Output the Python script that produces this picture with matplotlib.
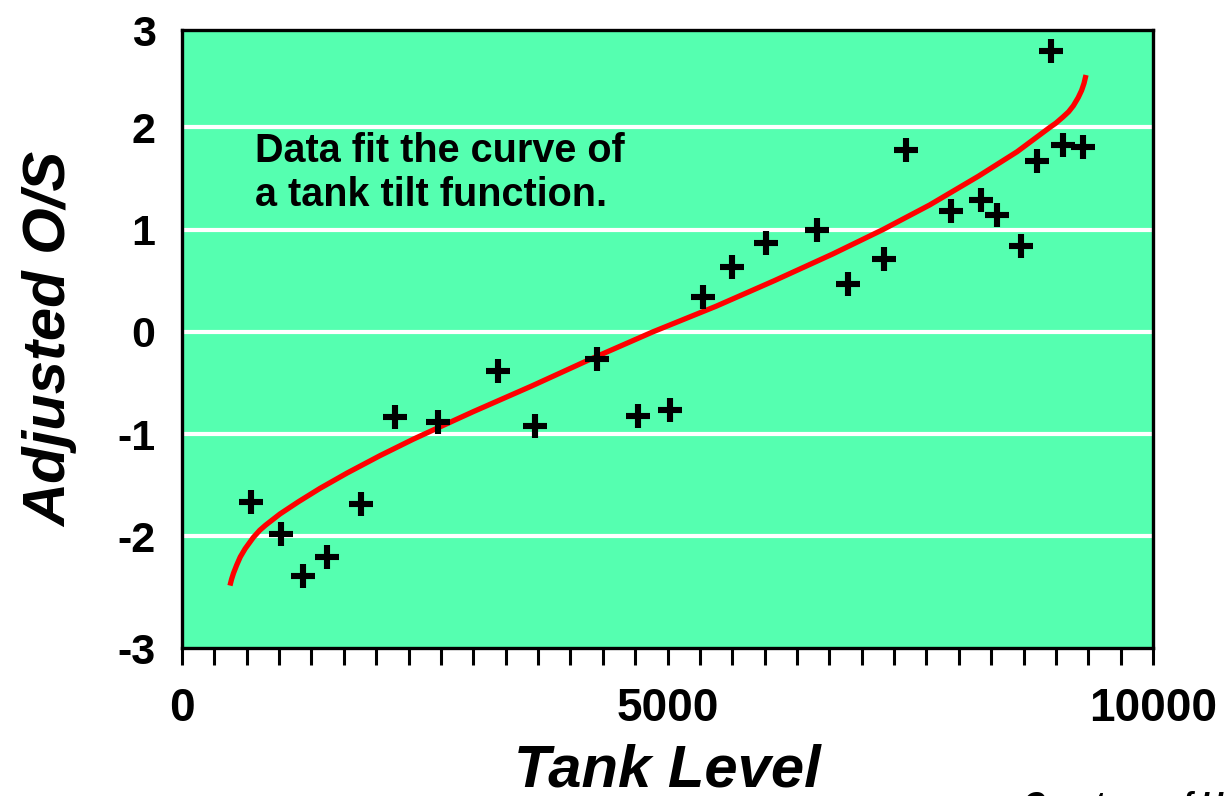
import matplotlib
matplotlib.use("Agg")
import matplotlib.pyplot as plt

# Scatter data (Tank Level, Adjusted O/S)
tank_level = [711, 1020, 1250, 1490, 1843, 2194, 2640, 3256, 3635, 4270,
              4700, 5025, 5362, 5668, 6015, 6536, 6858, 7232, 7456, 7920,
              8226, 8390, 8640, 8808, 8950, 9070, 9277]
adjusted_os = [-1.66, -1.98, -2.39, -2.20, -1.68, -0.83, -0.88, -0.38, -0.92, -0.27,
               -0.82, -0.76, 0.34, 0.63, 0.87, 1.00, 0.47, 0.71, 1.78, 1.18,
               1.29, 1.14, 0.84, 1.67, 2.74, 1.83, 1.81]

# Fitted tank tilt curve
curve_x = [494, 510, 530, 563, 600, 650, 734, 800, 860, 1009, 1200, 1421,
           1700, 2039, 2380, 2700, 3000, 3600, 4200, 4850, 5500, 6100, 6700,
           7220, 7700, 8200, 8600, 8940, 9000, 9073, 9130, 9180, 9230, 9265,
           9290, 9310]
curve_y = [-2.48, -2.42, -2.36, -2.28, -2.20, -2.12, -2.01, -1.94, -1.89, -1.78,
           -1.66, -1.53, -1.38, -1.21, -1.05, -0.91, -0.78, -0.53, -0.27, 0.00,
           0.25, 0.50, 0.76, 1.00, 1.24, 1.52, 1.76, 2.00, 2.04, 2.10, 2.15,
           2.21, 2.29, 2.36, 2.43, 2.51]

y_grid = [-2, -1, 0, 1, 2]
y_tick_labels = ["-3", "-2", "-1", "0", "1", "2", "3"]
x_tick_major = [0, 5000, 10000]
x_tick_labels = ["0", "5000", "10000"]

plt.rcParams['font.family'] = ['Liberation Sans', 'DejaVu Sans']

fig = plt.figure(figsize=(12.26, 7.96), dpi=100)
ax = fig.add_axes([182/1226, 1-648/796, (1153-182)/1226, (648-30)/796])
ax.set_facecolor('#55FFB0')

ymin, ymax = -3.09, 2.95
ax.set_xlim(0, 10000)
ax.set_ylim(ymin, ymax)

for g in y_grid:
    ax.axhline(g, color='white', lw=3, zorder=1)

ax.plot(curve_x, curve_y, color='#FF0000', lw=3.8, zorder=3,
        solid_capstyle='butt', solid_joinstyle='round')
ax.plot(tank_level, adjusted_os, linestyle='none', marker='+', color='black',
        markersize=17, markeredgewidth=4.4, zorder=4)

ax.set_yticks([ymin, -2, -1, 0, 1, 2, ymax])
ax.set_yticklabels(y_tick_labels)
ax.tick_params(axis='y', length=0, pad=19, labelsize=31)
for lab in ax.get_yticklabels():
    lab.set_fontweight('bold')

ax.set_xticks(x_tick_major)
ax.set_xticklabels(x_tick_labels)
ax.set_xticks([i * 10000 / 30 for i in range(31)], minor=True)
ax.tick_params(axis='x', which='both', direction='out', length=12, width=2.2,
               color='black')
ax.tick_params(axis='x', which='major', pad=16, labelsize=33)
for lab in ax.get_xticklabels():
    lab.set_fontweight('bold')

for s in ax.spines.values():
    s.set_linewidth(2.4)
    s.set_color('black')

ax.set_xlabel('Tank Level', fontsize=43, fontweight='bold', fontstyle='italic',
              labelpad=9)
ax.set_ylabel('Adjusted O/S', fontsize=43, fontweight='bold', fontstyle='italic',
              labelpad=28)

ax.text(752, 1.95, 'Data fit the curve of\na tank tilt function.', fontsize=28.5,
        fontweight='bold', va='top', ha='left', linespacing=1.2, zorder=5)

fig.text(1023/1226, 1-791/796, 'Courtesy of US', fontsize=22, fontweight='bold',
         fontstyle='italic', ha='left', va='top')

fig.savefig('out.png', dpi=100)
